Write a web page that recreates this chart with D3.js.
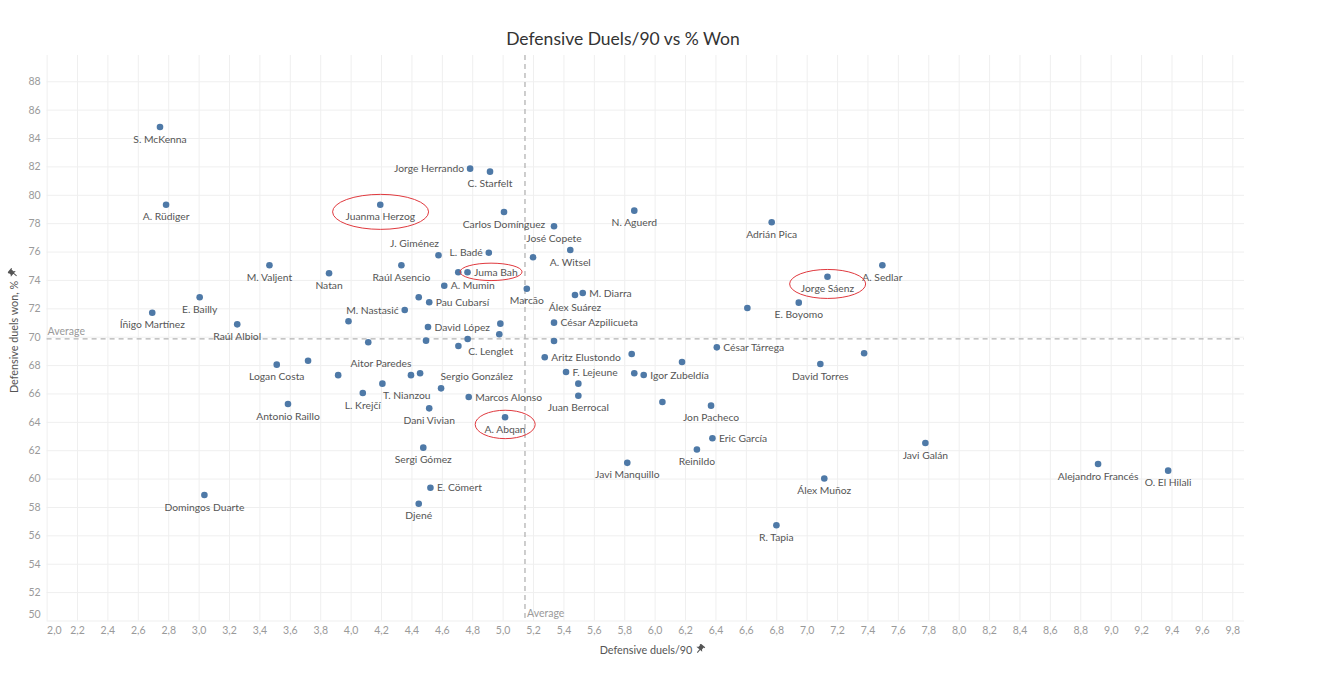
<!DOCTYPE html>
<html>
<head>
<meta charset="utf-8">
<script src="https://cdn.jsdelivr.net/npm/d3@7"></script>
<style>
body { margin: 0; background: #fff; }
svg text { font-family: Lato, "Open Sans", sans-serif; }
</style>
</head>
<body>
<div id="chart"></div>
<script>
// players in the order they were read off the scatter ("" = mark shown without a label)
var players = [
  "S. McKenna", "A. Rüdiger", "Íñigo Martínez", "E. Bailly", "Raúl Albiol", "Domingos Duarte",
  "M. Valjent", "Natan", "Logan Costa", "", "Antonio Raillo", "", "L. Krejčí", "T. Nianzou",
  "", "", "Juanma Herzog", "Raúl Asencio", "M. Nastasić", "J. Giménez", "A. Mumin", "",
  "Pau Cubarsí", "David López", "", "Aitor Paredes", "", "Sergio González", "Dani Vivian",
  "Sergi Gómez", "E. Cömert", "Djené", "Jorge Herrando", "C. Starfelt", "Carlos Domínguez",
  "L. Badé", "Juma Bah", "", "", "", "C. Lenglet", "", "Marcos Alonso", "A. Abqan", "Marcão",
  "", "José Copete", "A. Witsel", "Álex Suárez", "M. Diarra", "César Azpilicueta", "",
  "Aritz Elustondo", "F. Lejeune", "", "Juan Berrocal", "N. Aguerd", "", "", "Igor Zubeldía",
  "Javi Manquillo", "", "", "César Tárrega", "Jon Pacheco", "Eric García", "Reinildo", "",
  "Adrián Pica", "E. Boyomo", "R. Tapia", "Jorge Sáenz", "David Torres", "Álex Muñoz", "",
  "A. Sedlar", "Javi Galán", "Alejandro Francés", "O. El Hilali"
];

var duelsPer90 = [
  2.746, 2.786, 2.695, 3.007, 3.254, 3.038,
  3.466, 3.858, 3.514, 3.720, 3.588, 3.918, 4.080, 4.209,
  3.986, 4.116, 4.195, 4.334, 4.356, 4.578, 4.616, 4.448,
  4.517, 4.509, 4.496, 4.397, 4.457, 4.595, 4.517,
  4.478, 4.525, 4.448, 4.786, 4.917, 5.009,
  4.909, 4.769, 4.708, 4.985, 4.978, 4.770, 4.709, 4.777, 5.016, 5.159,
  5.200, 5.338, 5.445, 5.476, 5.527, 5.338, 5.338,
  5.277, 5.417, 5.498, 5.498, 5.866, 5.849, 5.866, 5.928,
  5.820, 6.051, 6.180, 6.409, 6.371, 6.380, 6.278, 6.610,
  6.770, 6.948, 6.801, 7.137, 7.090, 7.116, 7.378,
  7.498, 7.781, 8.917, 9.378
];

var duelsWonPct = [
  84.78, 79.30, 71.69, 72.78, 70.87, 58.84,
  75.03, 74.47, 68.03, 68.30, 65.26, 67.29, 66.03, 66.69,
  71.09, 69.61, 79.30, 75.03, 71.88, 75.74, 73.59, 72.78,
  72.43, 70.68, 69.72, 67.29, 67.42, 66.36, 64.95,
  62.18, 59.35, 58.23, 81.84, 81.63, 78.79,
  75.92, 74.54, 74.54, 70.92, 70.17, 69.84, 69.34, 65.75, 64.32, 73.38,
  75.60, 77.78, 76.11, 72.94, 73.08, 70.99, 69.70,
  68.55, 67.51, 66.69, 65.84, 78.88, 68.78, 67.42, 67.30,
  61.11, 65.40, 68.22, 69.25, 65.14, 62.84, 62.05, 72.02,
  78.06, 72.40, 56.71, 74.22, 68.08, 60.01, 68.83,
  75.03, 62.51, 61.03, 60.56
];

var avgDuels = 5.147;
var avgWon = 69.84;

var xTicks = [2.0, 2.2, 2.4, 2.6, 2.8, 3.0, 3.2, 3.4, 3.6, 3.8, 4.0, 4.2, 4.4, 4.6, 4.8, 5.0,
  5.2, 5.4, 5.6, 5.8, 6.0, 6.2, 6.4, 6.6, 6.8, 7.0, 7.2, 7.4, 7.6, 7.8, 8.0, 8.2, 8.4, 8.6,
  8.8, 9.0, 9.2, 9.4, 9.6, 9.8];
var yTicks = [50, 52, 54, 56, 58, 60, 62, 64, 66, 68, 70, 72, 74, 76, 78, 80, 82, 84, 86, 88];

// where each label sits around its mark (default below)
var labelSpot = {
  "Jorge Herrando": "l", "L. Badé": "l", "M. Nastasić": "l",
  "J. Giménez": "tl", "Aitor Paredes": "tl", "Sergio González": "tr",
  "T. Nianzou": "br", "C. Lenglet": "br",
  "Juma Bah": "r", "A. Mumin": "r", "Pau Cubarsí": "r", "David López": "r",
  "César Azpilicueta": "r", "Aritz Elustondo": "r", "M. Diarra": "r", "César Tárrega": "r",
  "Marcos Alonso": "r", "E. Cömert": "r", "F. Lejeune": "r", "Igor Zubeldía": "r",
  "Eric García": "r"
};
// red hand-drawn rings [rx, ry]
var circled = {
  "Juanma Herzog": [48, 17.5], "Juma Bah": [31, 8.7],
  "Jorge Sáenz": [38, 14.5], "A. Abqan": [30, 14.2]
};

var width = 1342, height = 680;
var margin = {top: 55, right: 98, bottom: 59.5, left: 46.6};

var svg = d3.select("#chart").append("svg")
  .attr("width", width)
  .attr("height", height);

var x = d3.scaleLinear().domain([2, 9.877]).range([margin.left, width - margin.right]);
var y = d3.scaleLinear().domain([50, 89.85]).range([height - margin.bottom, margin.top]);

var plotW = width - margin.left - margin.right;
var plotH = height - margin.top - margin.bottom;

var fmt = d3.formatLocale({decimal: ",", thousands: ".", grouping: [3], currency: ["", ""]}).format(".1f");

// x axis + vertical grid
var gx = svg.append("g")
  .attr("transform", "translate(0," + (height - margin.bottom) + ")")
  .call(d3.axisBottom(x).tickValues(xTicks).tickSize(-plotH).tickPadding(6).tickFormat(fmt));
// y axis + horizontal grid
var gy = svg.append("g")
  .attr("transform", "translate(" + margin.left + ",0)")
  .call(d3.axisLeft(y).tickValues(yTicks).tickSize(-plotW).tickPadding(6));

[gx, gy].forEach(function(g) {
  g.select(".domain").remove();
  g.selectAll(".tick line").attr("stroke", "#efefef");
  g.selectAll(".tick text").attr("fill", "#9a9a9a").style("font-size", "10.5px");
});
// edge labels are pushed inside like in Tableau
gx.select(".tick text").attr("text-anchor", "start");
gy.select(".tick text").attr("dy", "-0.3em");

// reference lines
svg.append("line")
  .attr("x1", margin.left).attr("x2", width - margin.right)
  .attr("y1", y(avgWon)).attr("y2", y(avgWon))
  .attr("stroke", "#b3b3b3").attr("stroke-width", 1.3).attr("stroke-dasharray", "5,4");
svg.append("line")
  .attr("x1", x(avgDuels)).attr("x2", x(avgDuels))
  .attr("y1", margin.top).attr("y2", height - margin.bottom)
  .attr("stroke", "#b3b3b3").attr("stroke-width", 1.3).attr("stroke-dasharray", "5,4");
svg.append("text").text("Average")
  .attr("x", margin.left + 1).attr("y", y(avgWon) - 3.5)
  .attr("fill", "#9a9a9a").style("font-size", "10.5px");
svg.append("text").text("Average")
  .attr("x", x(avgDuels) + 2).attr("y", height - margin.bottom - 3.5)
  .attr("fill", "#9a9a9a").style("font-size", "10.5px");

var data = players.map(function(p, i) {
  return {name: p, duels: duelsPer90[i], won: duelsWonPct[i]};
});

svg.append("g").selectAll("circle")
  .data(data)
  .join("circle")
  .attr("cx", d => x(d.duels))
  .attr("cy", d => y(d.won))
  .attr("r", 3.3)
  .attr("fill", "#4e79a7");

var spots = {
  b:  {anchor: "middle", dx: 0, dy: 12},
  r:  {anchor: "start", dx: 6.5, dy: 0},
  l:  {anchor: "end", dx: -6, dy: 0},
  tl: {anchor: "end", dx: 0.5, dy: -11.5},
  tr: {anchor: "start", dx: -0.5, dy: -11.5},
  br: {anchor: "start", dx: 0.5, dy: 12}
};

var labels = svg.append("g").selectAll("text")
  .data(data.filter(d => d.name !== ""))
  .join("text")
  .attr("x", d => x(d.duels) + spots[labelSpot[d.name] || "b"].dx)
  .attr("y", d => y(d.won) + spots[labelSpot[d.name] || "b"].dy)
  .attr("dy", "0.35em")
  .attr("text-anchor", d => spots[labelSpot[d.name] || "b"].anchor)
  .attr("fill", "#555")
  .style("font-size", "10.3px")
  .text(d => d.name);

// rings around the highlighted players (dot + label)
labels.filter(d => circled[d.name]).each(function(d) {
  var b = this.getBBox();
  var cx = x(d.duels), cy = y(d.won);
  var x0 = Math.min(b.x, cx - 3.3), x1 = Math.max(b.x + b.width, cx + 3.3);
  var y0 = Math.min(b.y, cy - 3.3), y1 = Math.max(b.y + b.height, cy + 3.3);
  svg.append("ellipse")
    .attr("cx", (x0 + x1) / 2)
    .attr("cy", (y0 + y1) / 2)
    .attr("rx", circled[d.name][0])
    .attr("ry", circled[d.name][1])
    .attr("fill", "none")
    .attr("stroke", "#e0393e")
    .attr("stroke-width", 1);
});

// title
svg.append("text")
  .attr("x", 623).attr("y", 45)
  .attr("text-anchor", "middle")
  .attr("fill", "#333")
  .style("font-size", "17.5px")
  .text("Defensive Duels/90 vs % Won");

// little pushpin next to axis titles
function pin(g, px, py, angle) {
  g.append("path")
    .attr("transform", "translate(" + px + "," + py + ") rotate(" + angle + ")")
    .attr("d", "M-2.6,-4.5 h5.2 v1.2 h-1 v2.6 l1.6,1.6 h-7.6 l1.6,-1.6 v-2.6 h-1 z M-0.5,0.9 h1 v3.8 h-1 z")
    .attr("fill", "#555");
}

var xt = svg.append("text")
  .attr("x", 646).attr("y", 650)
  .attr("dy", "0.35em")
  .attr("text-anchor", "middle")
  .attr("fill", "#555")
  .style("font-size", "10.8px")
  .text("Defensive duels/90");
pin(svg, 646 + xt.node().getComputedTextLength() / 2 + 8, 649, 40);

var gyt = svg.append("g").attr("transform", "translate(14,337) rotate(-90)");
var yt = gyt.append("text")
  .attr("x", 0).attr("y", 0)
  .attr("dy", "0.35em")
  .attr("text-anchor", "middle")
  .attr("fill", "#555")
  .style("font-size", "10.8px")
  .text("Defensive duels won, %");
pin(gyt, yt.node().getComputedTextLength() / 2 + 8, -1, 40);
</script>
</body>
</html>
